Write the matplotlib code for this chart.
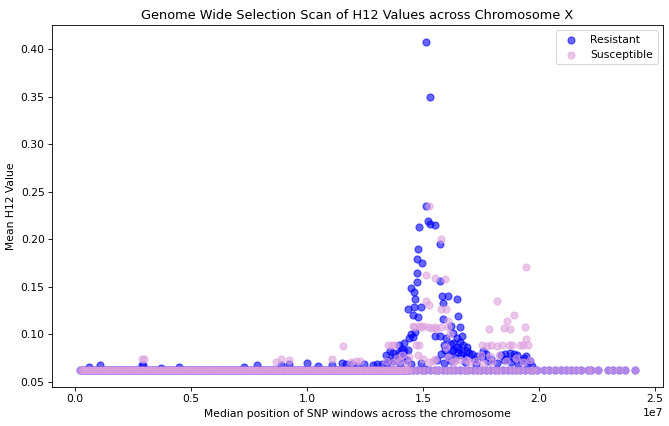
import matplotlib.pyplot as plt
import numpy as np

# Window positions (Mb) that sit at the H12 floor value for both groups
floor_h12 = 0.0618
floor_pos_mb = [
    0.2, 0.35, 0.5, 0.62, 0.78, 0.9, 1.05, 1.2, 1.33, 1.48, 1.6, 1.75, 1.9, 2.02,
    2.18, 2.3, 2.45, 2.6, 2.72, 2.88, 3.0, 3.15, 3.3, 3.42, 3.58, 3.7, 3.85, 4.0,
    4.12, 4.28, 4.4, 4.55, 4.7, 4.82, 4.98, 5.1, 5.25, 5.4, 5.52, 5.68, 5.8, 5.95,
    6.1, 6.22, 6.38, 6.5, 6.65, 6.8, 6.92, 7.08, 7.2, 7.35, 7.5, 7.62, 7.78, 7.9,
    8.05, 8.2, 8.32, 8.48, 8.6, 8.75, 8.9, 9.02, 9.18, 9.3, 9.45, 9.6, 9.72, 9.88,
    10.0, 10.15, 10.3, 10.42, 10.58, 10.7, 10.85, 11.0, 11.12, 11.28, 11.4, 11.55,
    11.7, 11.82, 11.98, 12.1, 12.25, 12.4, 12.52, 12.68, 12.8, 12.95, 13.1, 13.22,
    13.38, 13.5, 13.65, 13.8, 13.92, 14.08, 14.2, 14.35,
    0.27, 0.42, 0.56, 0.7, 0.84, 0.97, 1.12, 1.27, 1.4, 1.54, 1.68, 1.82, 1.96,
    2.1, 2.24, 2.38, 2.52, 2.66, 2.8, 2.94, 3.08, 3.22, 3.36, 3.5, 3.64, 3.78,
    3.92, 4.06, 4.2, 4.34, 4.48, 4.62, 4.76, 4.9, 5.04, 5.18, 5.32, 5.46, 5.6,
    5.74, 5.88, 6.02, 6.16, 6.3, 6.44, 6.58, 6.72, 6.86, 7.0, 7.14, 7.28, 7.42,
    7.56, 7.7, 7.84, 7.98, 8.12, 8.26, 8.4, 8.54, 8.68, 8.82, 8.96, 9.1, 9.24,
    9.38, 9.52, 9.66, 9.8, 9.94, 10.08, 10.22, 10.36, 10.5, 10.64, 10.78, 10.92,
    11.06, 11.2, 11.34, 11.48, 11.62, 11.76, 11.9, 12.04, 12.18, 12.32, 12.46,
    12.6, 12.74, 12.88, 13.02, 13.16, 13.3, 13.44, 13.58, 13.72, 13.86, 14.0,
    14.14, 14.28, 14.42,
    14.55, 14.75, 14.95, 15.1, 15.3, 15.5, 15.65, 15.85, 16.05, 16.2, 16.4, 16.6,
    16.8, 16.95, 17.15, 17.35, 17.5, 17.7, 17.9, 18.1, 18.25, 18.45, 18.65, 18.85,
    19.0, 19.2, 19.4, 19.6, 19.75,
    19.94, 20.23, 20.45, 20.70, 20.96, 21.18, 21.40, 21.62, 21.83, 22.13, 22.27,
    22.56, 23.00, 23.22, 23.44, 23.73, 24.16,
]

# Resistant windows above the floor (position Mb, mean H12)
res_pos_mb = [
    15.14, 15.30, 15.14, 14.82, 15.24, 15.31, 15.52, 15.72, 14.78, 14.73, 14.95,
    14.76, 14.73, 15.72, 14.47, 14.60, 14.67, 15.82, 16.08, 16.49, 14.37, 14.63,
    14.92, 15.87, 14.56, 14.80, 16.53, 15.87, 16.23, 16.59, 14.48, 14.56, 15.50,
    16.45, 16.67, 16.30, 16.59, 14.19, 13.97, 16.74, 13.97, 14.19, 13.70, 16.30,
    16.50, 16.70, 16.90, 17.10, 17.61, 18.56, 18.92, 19.35,
    13.7, 14.0, 14.3, 14.5, 14.9, 15.07, 15.6, 15.9, 16.2, 16.8, 17.3, 17.8, 18.2,
    18.5, 18.8, 19.1, 19.5, 19.7,
    13.4, 13.6, 13.8, 14.0, 14.2, 14.35, 13.5, 13.9, 14.1,
    15.8, 15.95, 16.1, 16.25, 16.4, 16.55, 16.65, 16.85, 17.0, 17.2, 17.35,
    17.55, 17.7, 17.95, 18.35, 18.6, 18.75, 18.95, 19.05, 19.25, 19.45, 19.6,
    15.9, 16.2, 16.45, 16.9, 15.75, 16.0, 16.3, 14.4, 14.65,
    0.58, 1.06, 2.87, 2.91, 3.68, 4.47, 7.28, 7.86, 8.88, 9.20, 10.01, 10.48,
    11.06, 11.50, 11.7, 11.95, 12.15, 12.45, 12.85, 13.0, 13.25, 13.45,
]
res_h12 = [
    0.408, 0.350, 0.235, 0.213, 0.219, 0.216, 0.215, 0.195, 0.190, 0.179, 0.175,
    0.164, 0.155, 0.156, 0.149, 0.144, 0.137, 0.140, 0.140, 0.137, 0.126, 0.128,
    0.129, 0.133, 0.120, 0.118, 0.119, 0.116, 0.108, 0.107, 0.100, 0.097, 0.098,
    0.096, 0.098, 0.091, 0.092, 0.091, 0.088, 0.088, 0.081, 0.082, 0.080, 0.083,
    0.081, 0.080, 0.082, 0.079, 0.082, 0.079, 0.079, 0.075,
    0.072, 0.070, 0.073, 0.068, 0.070, 0.063, 0.073, 0.070, 0.072, 0.071, 0.068,
    0.072, 0.070, 0.073, 0.071, 0.069, 0.068, 0.066,
    0.078, 0.082, 0.076, 0.079, 0.075, 0.083, 0.073, 0.074, 0.084,
    0.079, 0.083, 0.077, 0.082, 0.075, 0.084, 0.078, 0.076, 0.080, 0.074, 0.077,
    0.076, 0.079, 0.074, 0.078, 0.074, 0.080, 0.075, 0.078, 0.073, 0.077, 0.072,
    0.088, 0.090, 0.086, 0.086, 0.098, 0.096, 0.101, 0.096, 0.102,
    0.065, 0.067, 0.067, 0.067, 0.064, 0.065, 0.065, 0.067, 0.067, 0.068, 0.070,
    0.066, 0.067, 0.070, 0.068, 0.069, 0.066, 0.068, 0.067, 0.069, 0.068, 0.070,
]

# Susceptible windows above the floor
sus_pos_mb = [
    15.28, 15.77, 15.14, 19.46, 15.53, 15.94, 15.14, 18.19, 15.28, 16.01, 15.77,
    18.92, 16.08, 18.63, 14.56, 14.85, 14.99, 15.35, 15.57, 17.83, 18.49, 18.75,
    19.39, 16.16, 19.43, 13.68, 14.70, 14.85, 16.01, 17.76, 18.19, 18.85, 19.21,
    11.57,
    14.63, 14.92, 15.21, 15.50, 15.79, 16.08,
    13.5, 13.8, 17.55, 17.95, 18.4, 18.7, 19.3, 19.55,
    2.87, 2.95, 8.66, 8.88, 9.20, 11.06, 11.9, 12.1, 12.3, 13.9, 14.1, 14.4, 14.8,
    15.0, 15.5, 16.1, 16.4, 16.9, 17.5, 17.9, 18.3, 19.0, 19.6,
    13.4, 13.7, 14.0, 14.3, 15.25, 15.45, 16.3, 16.6, 17.0, 17.3, 17.6, 18.0,
    18.6, 19.3,
]
sus_h12 = [
    0.235, 0.200, 0.162, 0.171, 0.159, 0.158, 0.135, 0.135, 0.131, 0.126, 0.126,
    0.120, 0.114, 0.114, 0.109, 0.108, 0.108, 0.106, 0.105, 0.105, 0.106, 0.105,
    0.107, 0.100, 0.095, 0.088, 0.088, 0.088, 0.086, 0.087, 0.087, 0.088, 0.088,
    0.087,
    0.107, 0.107, 0.107, 0.107, 0.107, 0.107,
    0.088, 0.088, 0.088, 0.088, 0.088, 0.088, 0.088, 0.088,
    0.0736, 0.0736, 0.071, 0.0736, 0.073, 0.0736, 0.071, 0.072, 0.072, 0.075,
    0.078, 0.076, 0.078, 0.074, 0.074, 0.076, 0.072, 0.073, 0.078, 0.077, 0.078,
    0.075, 0.073,
    0.072, 0.071, 0.072, 0.070, 0.071, 0.072, 0.071, 0.073, 0.071, 0.072, 0.070,
    0.071, 0.072, 0.071,
]

floor_x = np.array(floor_pos_mb) * 1e6
floor_y = [floor_h12] * len(floor_pos_mb)

res_x = np.concatenate([floor_x, np.array(res_pos_mb) * 1e6])
res_y = floor_y + res_h12
sus_x = np.concatenate([floor_x, np.array(sus_pos_mb) * 1e6])
sus_y = floor_y + sus_h12

dpi = 77
fig = plt.figure(figsize=(669 / dpi, 426 / dpi), dpi=dpi)
ax = fig.add_axes([0.078, 0.092, 0.913, 0.849])

ax.scatter(res_x, res_y, s=44, color="blue", alpha=0.6, label="Resistant")
ax.scatter(sus_x, sus_y, s=44, color="plum", alpha=0.6, label="Susceptible")

ax.set_title("Genome Wide Selection Scan of H12 Values across Chromosome X")
ax.set_xlabel("Median position of SNP windows across the chromosome")
ax.set_ylabel("Mean H12 Value")
ax.legend(loc="upper right")

plt.savefig("out.png", dpi=dpi)
